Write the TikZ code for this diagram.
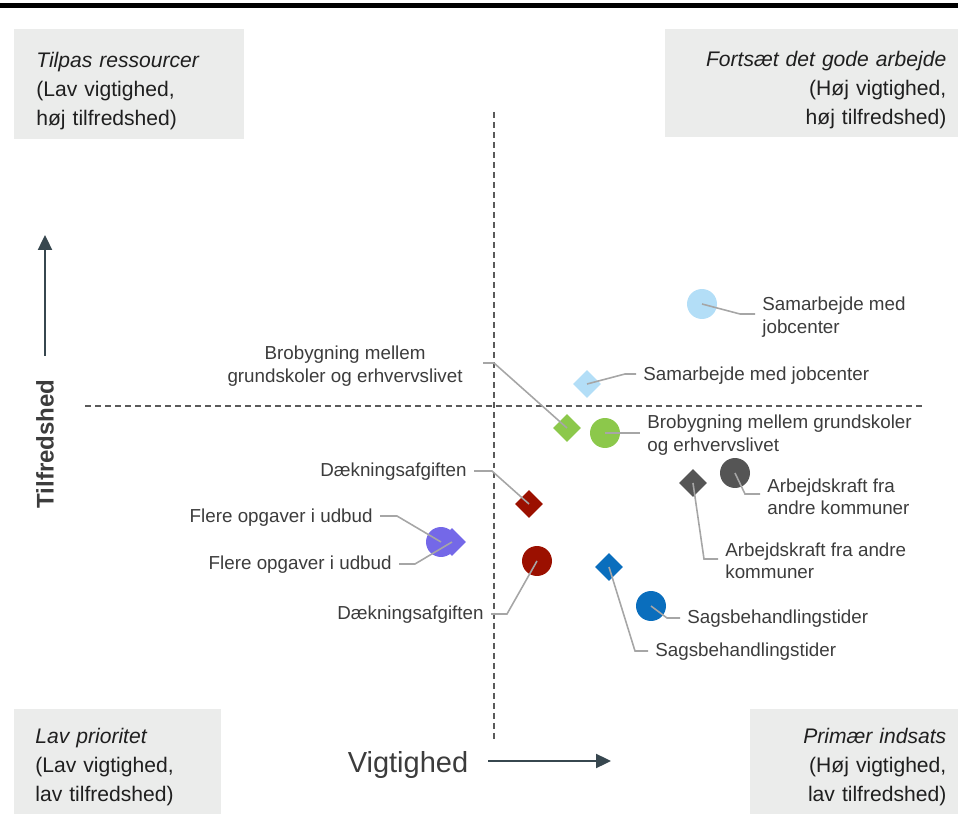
\documentclass[tikz,border=0pt]{standalone}
\usepackage{fontspec}
\setmainfont{Liberation Sans}
\usepackage{xcolor}
\usepackage{tikz}
\usetikzlibrary{arrows.meta}
\usetikzlibrary{shapes.geometric}
\definecolor{boxgray}{HTML}{EBECEB}
\definecolor{axisgray}{HTML}{37474F}
\definecolor{dashgray}{HTML}{5A5A5A}
\definecolor{leadgray}{HTML}{A6A6A6}
\definecolor{txtgray}{HTML}{3C3C3C}
\definecolor{skyblue}{HTML}{B3DEF7}
\definecolor{grassgreen}{HTML}{8CC84B}
\definecolor{coal}{HTML}{555555}
\definecolor{darkred}{HTML}{9B1000}
\definecolor{seablue}{HTML}{0A6EBD}
\definecolor{lilac}{HTML}{7468E8}

\begin{document}
\begin{tikzpicture}[x=0.02cm,y=-0.02cm,
  quad/.style={fill=boxgray,inner ysep=0pt,anchor=north west,text=black!88,
    font=\fontsize{12}{16.5}\selectfont},
  dot/.style={circle,fill=#1,minimum size=0.6cm,inner sep=0pt},
  dia/.style={diamond,fill=#1,minimum size=0.56cm,inner sep=0pt},
  lbl/.style={font=\fontsize{10.7}{12.7}\selectfont,text=txtgray,inner sep=4pt},
  lead/.style={leadgray,line width=0.9pt},
  quadline/.style={dashgray,line width=0.85pt,dash pattern=on 3.4pt off 2.3pt},
  axisarrow/.style={axisgray,line width=1.1pt,-{Triangle[length=8.5pt,width=8pt]}}]
\useasboundingbox (0,0) rectangle (958,814);

\draw [black,line width=2.5pt] (0,5.5) -- (958,5.5);

% corner boxes
\node [quad,text width=3.72cm,inner xsep=0.44cm,minimum height=2.2cm,align=left] (tilpas) at (14,29)
  {\rule{0pt}{16pt}\textit{Tilpas ressourcer}\\(Lav vigtighed,\\høj tilfredshed)};
\node [quad,text width=5.38cm,inner xsep=0.24cm,minimum height=2.16cm,align=right] (fortsaet) at (665,29)
  {\rule{0pt}{16pt}\textit{Fortsæt det gode arbejde}\\(Høj vigtighed,\\høj tilfredshed)};
\node [quad,text width=3.3cm,inner xsep=0.42cm,minimum height=2.3cm,align=left] (lavprio) at (14,709)
  {\textit{Lav prioritet}\\(Lav vigtighed,\\lav tilfredshed)};
\node [quad,text width=3.68cm,inner xsep=0.24cm,minimum height=2.3cm,align=right] (primaer) at (750,709)
  {\textit{Primær indsats}\\(Høj vigtighed,\\lav tilfredshed)};

% axes
\draw [quadline] (494,112) -- (494,742);
\draw [quadline] (85,406) -- (922,406);
\node [font=\fontsize{16.5}{18}\selectfont,text=txtgray] (vig) at (408,765) {Vigtighed};
\coordinate (vigtip) at (611,761);
\draw [axisarrow,shorten <=8pt] (vig.east |- vigtip) -- (vigtip);
\node [rotate=90,font=\bfseries\fontsize{13.7}{15}\selectfont,text=txtgray] (tilf) at (45,444) {Tilfredshed};
\coordinate (tilftip) at (45,235);
\draw [axisarrow,shorten <=10pt] (tilf.east) -- (tilftip);

% markers
\node [dot=skyblue] (csam) at (702,304) {};
\node [dia=skyblue] (dsam) at (587,384) {};
\node [dia=grassgreen] (dbro) at (567,428) {};
\node [dot=grassgreen] (cbro) at (605,433) {};
\node [dia=coal] (darb) at (693,483) {};
\node [dot=coal] (carb) at (735,473) {};
\node [dia=darkred] (ddae) at (529,504) {};
\node [dot=darkred] (cdae) at (537,561) {};
\node [dia=lilac] (dfle) at (452,542) {};
\node [dot=lilac] (cfle) at (441,542) {};
\node [dia=seablue] (dsag) at (609,567) {};
\node [dot=seablue] (csag) at (651,606) {};

% labels
\node [lbl,anchor=west,align=left] (lcsam) at (755,317) {Samarbejde med\\jobcenter};
\node [lbl,anchor=west] (ldsam) at (636,376) {Samarbejde med jobcenter};
\node [lbl,anchor=east,align=center] (ldbro) at (470,366) {Brobygning mellem\\grundskoler og erhvervslivet};
\node [lbl,anchor=west,align=left] (lcbro) at (640,435) {Brobygning mellem grundskoler\\og erhvervslivet};
\node [lbl,anchor=west,align=left] (ldarb) at (718,561) {Arbejdskraft fra andre\\kommuner};
\node [lbl,anchor=west,align=left] (lcarb) at (760,497) {Arbejdskraft fra\\andre kommuner};
\node [lbl,anchor=east] (lddae) at (474,472) {Dækningsafgiften};
\node [lbl,anchor=east] (lcdae) at (491,615) {Dækningsafgiften};
\node [lbl,anchor=east] (lcfle) at (380,518) {Flere opgaver i udbud};
\node [lbl,anchor=east] (ldfle) at (399,565) {Flere opgaver i udbud};
\node [lbl,anchor=west] (ldsag) at (648,652) {Sagsbehandlingstider};
\node [lbl,anchor=west] (lcsag) at (680,619) {Sagsbehandlingstider};

% leader lines
\coordinate (kcsam) at (740,314);
\coordinate (kdsam) at (625,374);
\coordinate (kdbro) at (494,363);
\coordinate (kdarb) at (704,559);
\coordinate (kcarb) at (745,494);
\coordinate (kddae) at (492,471);
\coordinate (kcdae) at (507,614);
\coordinate (kcfle) at (397,516);
\coordinate (kdfle) at (415,564);
\coordinate (kdsag) at (635,651);
\coordinate (kcsag) at (667,618);
\draw [lead] (csam.center) -- (kcsam) -- (lcsam.west |- kcsam);
\draw [lead] (dsam.center) -- (kdsam) -- (ldsam.west |- kdsam);
\draw [lead] (dbro.center) -- (kdbro) -- ++(-11,0);
\draw [lead] (cbro.center) -- (lcbro.west |- cbro);
\draw [lead] (darb.center) -- (kdarb) -- (ldarb.west |- kdarb);
\draw [lead] (carb.center) -- (kcarb) -- (lcarb.west |- kcarb);
\draw [lead] (ddae.center) -- (kddae) -- (lddae.east |- kddae);
\draw [lead] (cdae.center) -- (kcdae) -- (lcdae.east |- kcdae);
\draw [lead] (cfle.center) -- (kcfle) -- (lcfle.east |- kcfle);
\draw [lead] (dfle.center) -- (kdfle) -- (ldfle.east |- kdfle);
\draw [lead] (dsag.center) -- (kdsag) -- (ldsag.west |- kdsag);
\draw [lead] (csag.center) -- (kcsag) -- (lcsag.west |- kcsag);
\end{tikzpicture}
\end{document}
